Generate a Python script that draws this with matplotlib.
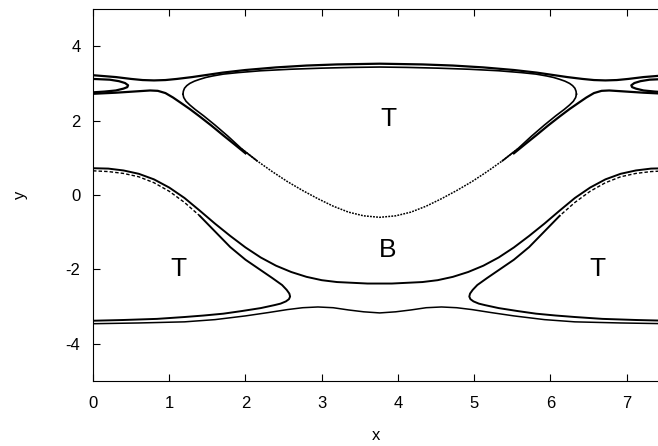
import numpy as np
import matplotlib
matplotlib.use("Agg")
import matplotlib.pyplot as plt

plt.rcParams['font.family'] = ['Liberation Sans', 'DejaVu Sans']
plt.rcParams['axes.unicode_minus'] = False

# ---- data (x, y pairs of each curve) ----
# upper outer separatrix
top_outer_x = [0, 0.3, 0.5, 0.65, 0.8, 0.95, 1.1, 1.3, 1.5, 1.7, 2.0, 2.4, 2.8, 3.2, 3.76,
               4.32, 4.72, 5.12, 5.52, 5.82, 6.02, 6.22, 6.42, 6.57, 6.72, 6.87, 7.02, 7.22, 7.52]
top_outer_y = [3.22, 3.17, 3.12, 3.09, 3.08, 3.09, 3.12, 3.17, 3.23, 3.29, 3.36, 3.43, 3.48, 3.51, 3.53,
               3.51, 3.48, 3.43, 3.36, 3.29, 3.23, 3.17, 3.12, 3.09, 3.08, 3.09, 3.12, 3.17, 3.22]

# big trapped island: upper boundary (solid)
isl_top_x = [1.18, 1.185, 1.2, 1.23, 1.27, 1.33, 1.40, 1.48, 1.57, 1.71, 1.9, 2.2, 2.58, 3.0, 3.4, 3.76,
             4.12, 4.52, 4.94, 5.32, 5.62, 5.81, 5.95, 6.04, 6.12, 6.19, 6.25, 6.29, 6.32, 6.335, 6.34]
isl_top_y = [2.71, 2.79, 2.87, 2.94, 3.00, 3.06, 3.11, 3.16, 3.20, 3.25, 3.29, 3.34, 3.38, 3.41, 3.43, 3.44,
             3.43, 3.41, 3.38, 3.34, 3.29, 3.25, 3.20, 3.16, 3.11, 3.06, 3.00, 2.94, 2.87, 2.79, 2.71]
# big trapped island: lower branch (dotted in the middle)
isl_low_x = [1.18, 1.19, 1.22, 1.27, 1.34, 1.45, 1.6, 1.77, 1.95, 2.15, 2.35, 2.55, 2.75, 2.95,
             3.15, 3.35, 3.55, 3.76, 3.97, 4.17, 4.37, 4.57, 4.77, 4.97, 5.17, 5.37, 5.57,
             5.75, 5.92, 6.07, 6.18, 6.25, 6.30, 6.33, 6.34]
isl_low_y = [2.71, 2.62, 2.52, 2.42, 2.30, 2.13, 1.88, 1.58, 1.24, 0.92, 0.63, 0.36, 0.12, -0.10,
             -0.30, -0.46, -0.56, -0.60, -0.56, -0.46, -0.30, -0.10, 0.12, 0.36, 0.63, 0.92, 1.24,
             1.58, 1.88, 2.13, 2.30, 2.42, 2.52, 2.62, 2.71]

# lower branches through the upper X points
xl_left_x = [0, 0.3, 0.6, 0.75, 0.85, 0.95, 1.05, 1.15, 1.27, 1.40, 1.55, 1.71, 1.85, 2.0]
xl_left_y = [2.72, 2.75, 2.79, 2.81, 2.80, 2.74, 2.62, 2.48, 2.31, 2.11, 1.87, 1.60, 1.37, 1.12]
xl_right_x = [7.52, 7.22, 6.92, 6.77, 6.67, 6.57, 6.47, 6.37, 6.25, 6.12, 5.97, 5.81, 5.67, 5.52]
xl_right_y = [2.72, 2.75, 2.79, 2.81, 2.80, 2.74, 2.62, 2.48, 2.31, 2.11, 1.87, 1.60, 1.37, 1.12]

# small loops at the edges
loop_left_x = [0, 0.22, 0.34, 0.42, 0.46, 0.45, 0.40, 0.30, 0.15, 0]
loop_left_y = [3.12, 3.10, 3.06, 3.01, 2.95, 2.90, 2.86, 2.81, 2.78, 2.76]
loop_right_x = [7.52, 7.30, 7.18, 7.10, 7.06, 7.07, 7.12, 7.22, 7.37, 7.52]
loop_right_y = [3.12, 3.10, 3.06, 3.01, 2.95, 2.90, 2.86, 2.81, 2.78, 2.76]

# channel upper boundary (below B)
chan_top_x = [0, 0.2, 0.4, 0.6, 0.8, 1.0, 1.2, 1.4, 1.6, 1.8, 2.0, 2.2, 2.4, 2.6, 2.8, 3.0, 3.2, 3.4, 3.6, 3.76,
              3.92, 4.12, 4.32, 4.52, 4.72, 4.92, 5.12, 5.32, 5.52, 5.72, 5.92, 6.12, 6.32, 6.52, 6.72,
              6.92, 7.12, 7.32, 7.52]
chan_top_y = [0.72, 0.71, 0.66, 0.57, 0.42, 0.20, -0.08, -0.42, -0.77, -1.10, -1.41, -1.68, -1.90, -2.07,
              -2.20, -2.29, -2.34, -2.36, -2.38, -2.38,
              -2.38, -2.36, -2.34, -2.29, -2.20, -2.07, -1.90, -1.68, -1.41, -1.10, -0.77, -0.42, -0.08,
              0.20, 0.42, 0.57, 0.66, 0.71, 0.72]

# lower trapped islands
low_isl_left_x = [0, 0.2, 0.4, 0.6, 0.8, 1.0, 1.2, 1.4, 1.6, 1.8, 2.0, 2.2, 2.35, 2.48, 2.54, 2.575,
                  2.585, 2.57, 2.53, 2.46, 2.38, 2.2, 1.95, 1.71, 1.45, 1.2, 0.84, 0.4, 0]
low_isl_left_y = [0.65, 0.63, 0.58, 0.49, 0.33, 0.10, -0.20, -0.56, -0.98, -1.40, -1.74, -2.02, -2.23,
                  -2.42, -2.55, -2.65, -2.73, -2.80, -2.86, -2.92, -2.96, -3.04, -3.12, -3.19, -3.24,
                  -3.28, -3.33, -3.36, -3.38]
low_isl_right_x = [7.52, 7.32, 7.12, 6.92, 6.72, 6.52, 6.32, 6.12, 5.92, 5.72, 5.52, 5.32, 5.17, 5.04,
                   4.98, 4.945, 4.935, 4.95, 4.99, 5.06, 5.14, 5.32, 5.57, 5.81, 6.07, 6.32, 6.68, 7.12, 7.52]
low_isl_right_y = [0.65, 0.63, 0.58, 0.49, 0.33, 0.10, -0.20, -0.56, -0.98, -1.40, -1.74, -2.02, -2.23,
                   -2.42, -2.55, -2.65, -2.73, -2.80, -2.86, -2.92, -2.96, -3.04, -3.12, -3.19, -3.24,
                   -3.28, -3.33, -3.36, -3.38]

# channel lower boundary
chan_bot_x = [0, 0.6, 1.2, 1.6, 2.0, 2.3, 2.55, 2.75, 2.95, 3.15, 3.35, 3.55, 3.76,
              3.97, 4.17, 4.37, 4.57, 4.77, 4.97, 5.22, 5.52, 5.92, 6.32, 6.92, 7.52]
chan_bot_y = [-3.46, -3.44, -3.41, -3.35, -3.25, -3.16, -3.08, -3.03, -3.01, -3.03, -3.09, -3.14, -3.17,
              -3.14, -3.09, -3.03, -3.01, -3.03, -3.08, -3.16, -3.25, -3.35, -3.41, -3.44, -3.46]

labels = ["T", "B", "T", "T"]
label_x = [3.87, 3.87, 1.12, 6.62]
label_y = [2.05, -1.48, -2.0, -2.0]

x_ticks = [0, 1, 2, 3, 4, 5, 6, 7]
y_ticks = [-4, -2, 0, 2, 4]

# ---- figure ----
fig = plt.figure(figsize=(6.58, 4.46), dpi=100)
ax = fig.add_axes([93 / 658, 1 - 381 / 446, 1 - 93 / 658, (381 - 9) / 446])

k = 'black'
ax.plot(top_outer_x, top_outer_y, color=k, lw=1.6)
ax.plot(isl_top_x, isl_top_y, color=k, lw=1.2)

lx = np.array(isl_low_x); ly = np.array(isl_low_y)
solid_l = lx <= 2.15
solid_r = lx >= 5.37
dots = (lx >= 1.95) & (lx <= 5.57)
ax.plot(lx[solid_l], ly[solid_l], color=k, lw=1.2)
ax.plot(lx[dots], ly[dots], color=k, lw=1.1, ls=(0, (1.2, 0.8)))
ax.plot(lx[solid_r], ly[solid_r], color=k, lw=1.2)

ax.plot(xl_left_x, xl_left_y, color=k, lw=1.6)
ax.plot(xl_right_x, xl_right_y, color=k, lw=1.6)
ax.plot(loop_left_x, loop_left_y, color=k, lw=1.6)
ax.plot(loop_right_x, loop_right_y, color=k, lw=1.6)
ax.plot(chan_top_x, chan_top_y, color=k, lw=1.4)

for xs, ys in [(low_isl_left_x, low_isl_left_y), (low_isl_right_x, low_isl_right_y)]:
    xs = np.array(xs); ys = np.array(ys)
    n_dash = 8
    ax.plot(xs[:n_dash], ys[:n_dash], color=k, lw=1.0, ls=(0, (2.5, 1.5)))
    ax.plot(xs[n_dash - 1:], ys[n_dash - 1:], color=k, lw=1.4)

ax.plot(chan_bot_x, chan_bot_y, color=k, lw=1.1)

for t, tx, ty in zip(labels, label_x, label_y):
    ax.text(tx, ty, t, fontsize=19, ha='center', va='center')

ax.set_xlim(0, 7.41)
ax.set_ylim(-5, 5)
ax.set_xticks(x_ticks)
ax.set_yticks(y_ticks)
ax.tick_params(direction='in', length=5, width=0.8, labelsize=12, top=True, right=False)
ax.tick_params(axis='x', pad=11)
ax.tick_params(axis='y', pad=9)
ax.spines['right'].set_visible(False)
for s in ['left', 'top', 'bottom']:
    ax.spines[s].set_linewidth(0.8)
ax.set_xlabel('x', fontsize=12, labelpad=12)
ax.set_ylabel('y', fontsize=12, labelpad=27)

fig.savefig('out.png', dpi=100)
